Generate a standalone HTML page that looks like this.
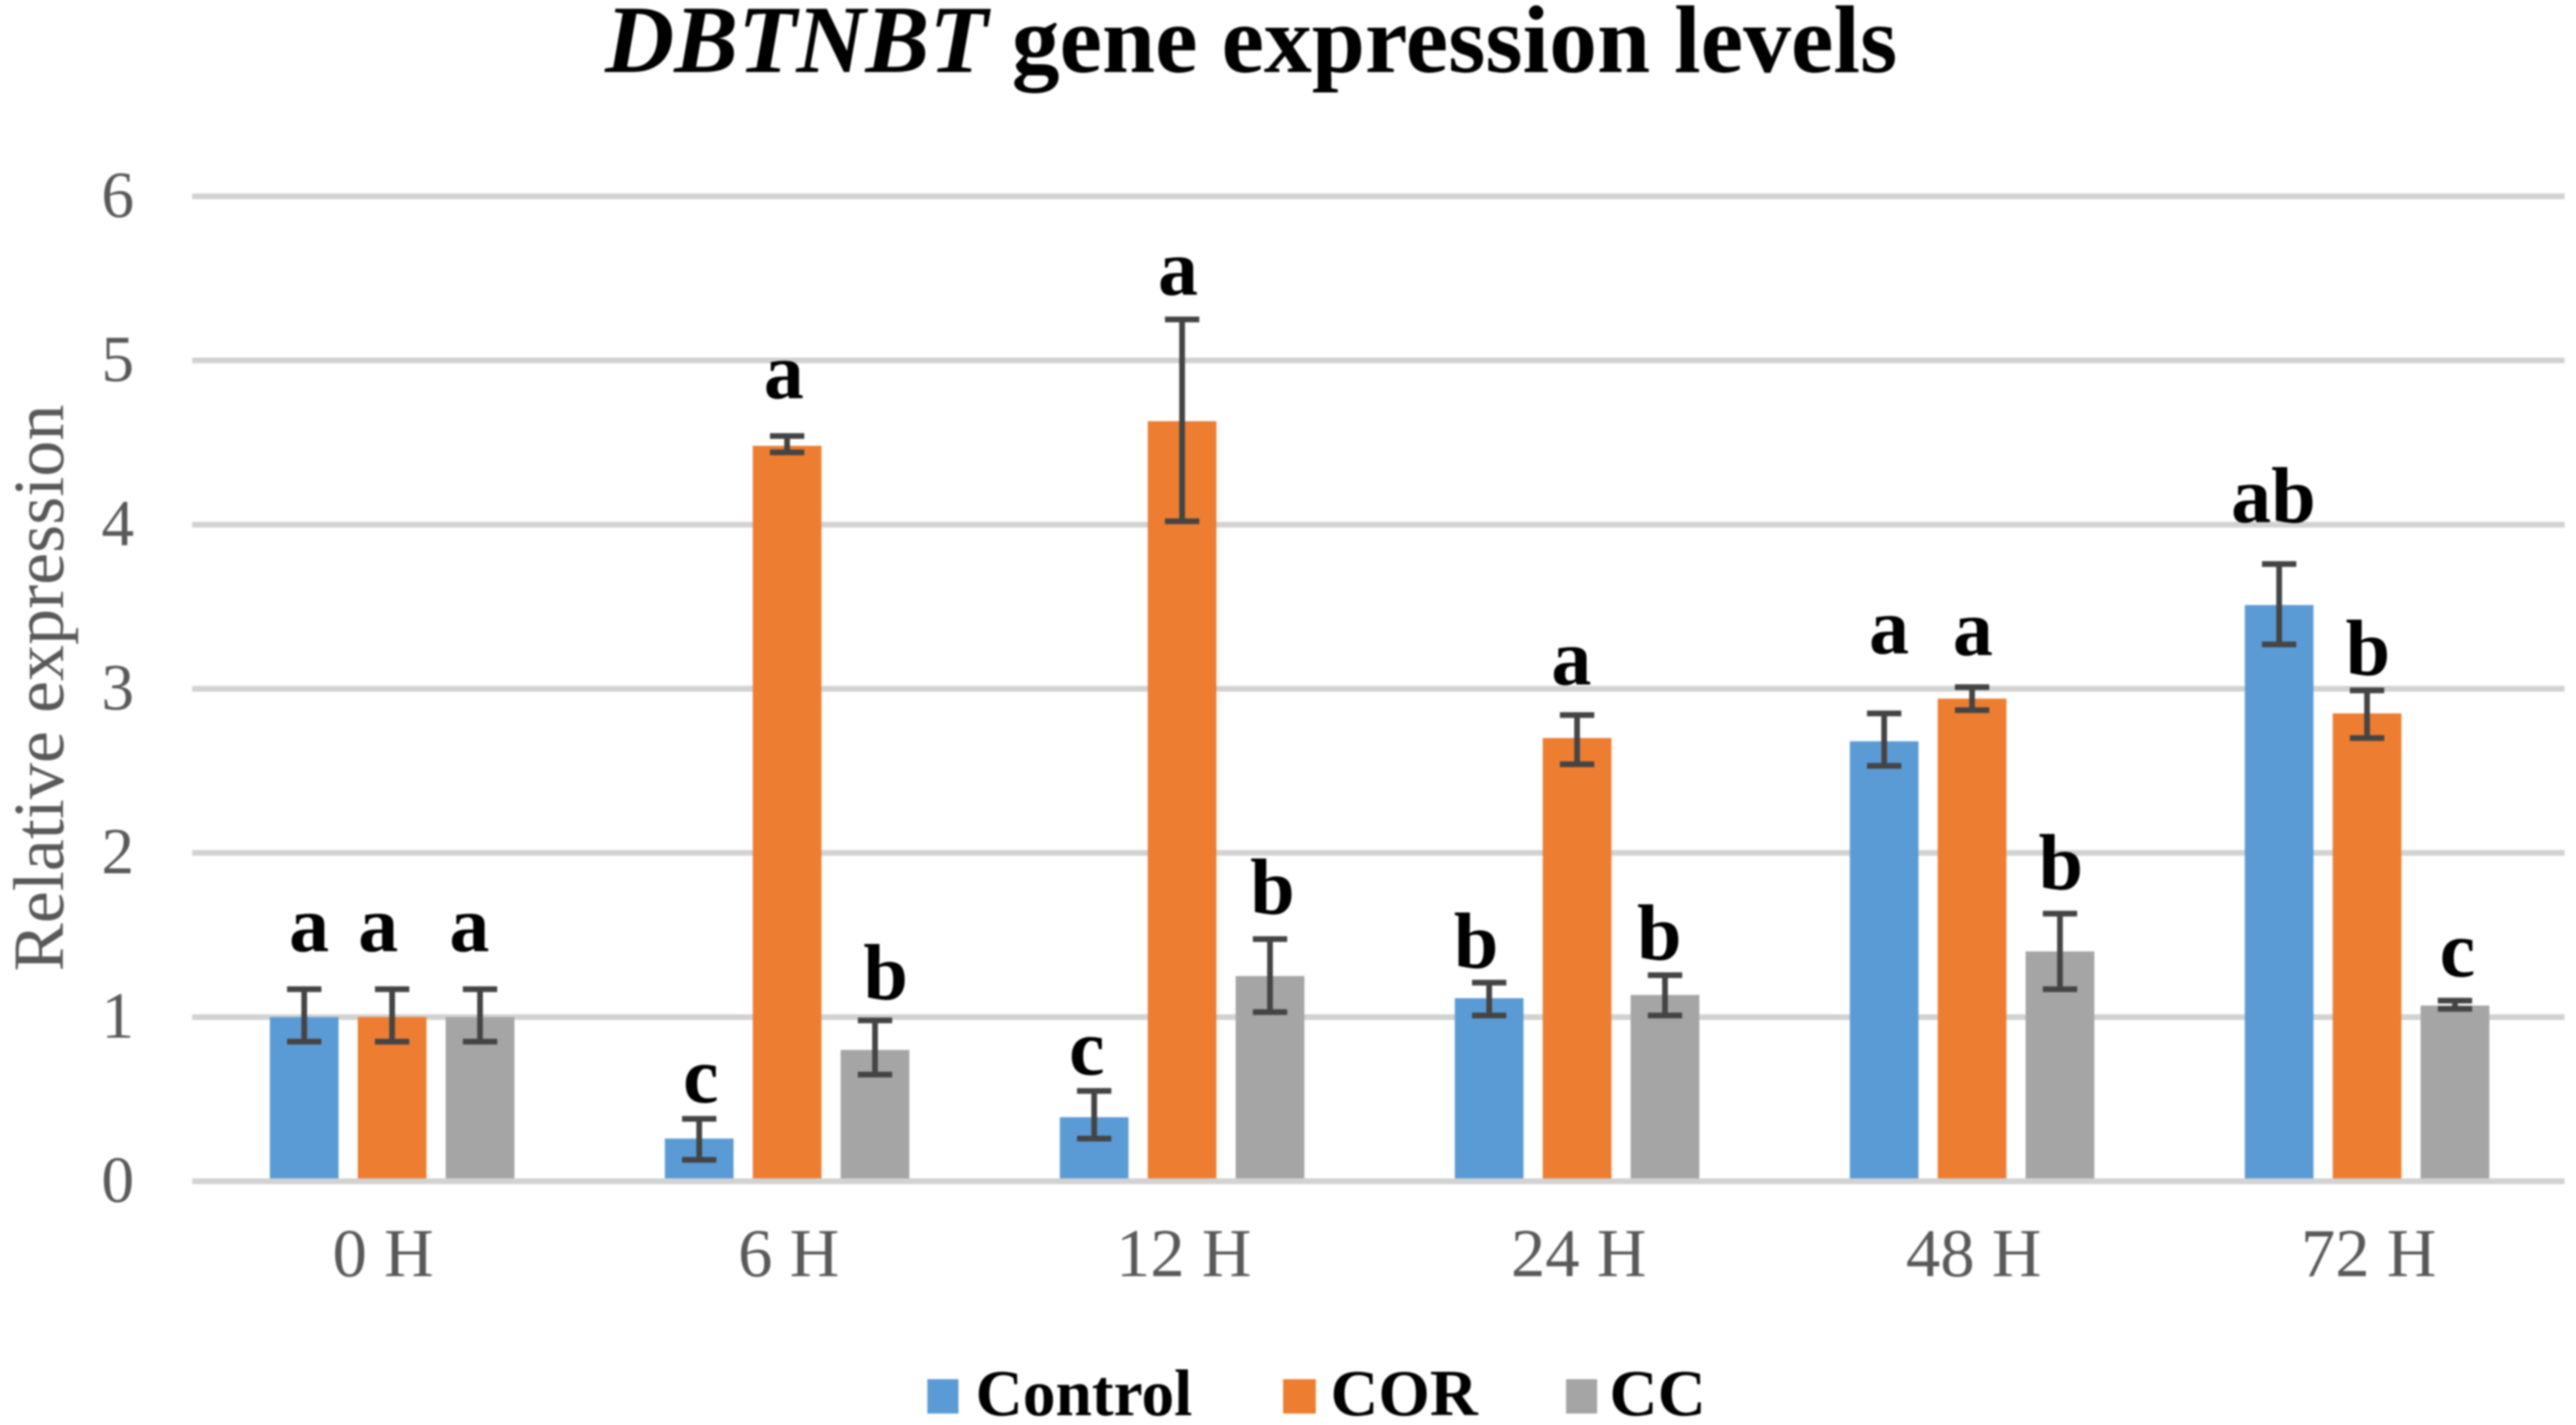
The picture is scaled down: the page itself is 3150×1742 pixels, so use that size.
<!DOCTYPE html>
<html lang="en">
<head>
<meta charset="utf-8">
<title>DBTNBT gene expression levels</title>
<style>
  html, body { margin: 0; padding: 0; background: #fff; width: 3150px; height: 1742px; overflow: hidden; }
  svg { display: block; filter: blur(1.1px); }
  text { font-family: "Liberation Serif", "Times New Roman", serif; }
</style>
</head>
<body>
<svg id="chart" xmlns="http://www.w3.org/2000/svg" width="3150" height="1742" viewBox="0 0 3150 1742">
  <rect x="0" y="0" width="3150" height="1742" fill="#ffffff"></rect>
  <text x="740" y="88" font-size="118" font-weight="bold" fill="#000" textLength="1580" lengthAdjust="spacingAndGlyphs"><tspan font-style="italic">DBTNBT</tspan> gene expression levels</text>
  <text transform="translate(77 841) rotate(-90)" text-anchor="middle" font-size="88" fill="#595959" textLength="693" lengthAdjust="spacingAndGlyphs">Relative expression</text>
  <g id="grid"></g>
  <g id="yticks"></g>
  <g id="bars"></g>
  <g id="baseline"></g>
  <g id="errors"></g>
  <g id="letters"></g>
  <g id="xticks"></g>
  <g>
    <g>
      <rect x="1134" y="1686" width="38" height="42" fill="#5B9BD5"></rect>
      <text x="1193" y="1730" font-size="80" font-weight="bold" fill="#000" textLength="265" lengthAdjust="spacingAndGlyphs">Control</text>
    </g>
    <g>
      <rect x="1569" y="1686" width="40" height="42" fill="#ED7D31"></rect>
      <text x="1627" y="1730" font-size="80" font-weight="bold" fill="#000" textLength="180" lengthAdjust="spacingAndGlyphs">COR</text>
    </g>
    <g>
      <rect x="1915" y="1686" width="38" height="42" fill="#A5A5A5"></rect>
      <text x="1968" y="1730" font-size="80" font-weight="bold" fill="#000" textLength="118" lengthAdjust="spacingAndGlyphs">CC</text>
    </g>
  </g>
</svg>
<script>
// ---- chart data ----
const categories = ['0 H', '6 H', '12 H', '24 H', '48 H', '72 H'];
const yTickValues = [0, 1, 2, 3, 4, 5, 6];

const controlValues = [1, 0.26, 0.39, 1.115, 2.68, 3.51];
const controlUpper  = [1.17, 0.38, 0.55, 1.21, 2.85, 3.76];
const controlLower  = [0.85, 0.13, 0.26, 1.01, 2.53, 3.27];
const controlLetters = ['a', 'c', 'c', 'b', 'a', 'ab'];

const corValues = [1, 4.48, 4.63, 2.70, 2.94, 2.85];
const corUpper  = [1.17, 4.54, 5.25, 2.84, 3.01, 2.99];
const corLower  = [0.85, 4.44, 4.02, 2.54, 2.87, 2.70];
const corLetters = ['a', 'a', 'a', 'a', 'a', 'b'];

const ccValues = [1, 0.80, 1.25, 1.135, 1.40, 1.07];
const ccUpper  = [1.17, 0.98, 1.475, 1.255, 1.63, 1.10];
const ccLower  = [0.85, 0.65, 1.03, 1.01, 1.17, 1.05];
const ccLetters = ['a', 'b', 'b', 'b', 'b', 'c'];

// ---- layout (kept apart from the data) ----
const SVG_NS = 'http://www.w3.org/2000/svg';
const Y_ZERO = 1444, Y_UNIT = 200.67;
const GROUP_START = 330, GROUP_PITCH = 483, BAR_PITCH = 107.5, BAR_WIDTH = 84;
const GRID_LEFT = 235, GRID_RIGHT = 3136;
const CAP_WIDTH = 42;

// Letter placement relative to each error-bar top: [horizontal shift, gap above cap].
const letterOffsets = {
  control: [[6, 46], [2, 20], [-9, 20], [-16, 18], [6, 73], [-7, 51]],
  cor:     [[-17, 46], [-4, 46], [-5, 30], [-7, 37], [1, 39], [1, 19]],
  cc:      [[-13, 46], [13, 26], [3, 31], [-7, 19], [1, 30], [3, 30]]
};

const series = [
  { key: 'control', color: '#5B9BD5', values: controlValues, upper: controlUpper, lower: controlLower, letters: controlLetters },
  { key: 'cor',     color: '#ED7D31', values: corValues,     upper: corUpper,     lower: corLower,     letters: corLetters },
  { key: 'cc',      color: '#A5A5A5', values: ccValues,      upper: ccUpper,      lower: ccLower,      letters: ccLetters }
];

// ---- axis functions ----
function yScale(v) { return Y_ZERO - v * Y_UNIT; }
function barLeft(catIndex, seriesIndex) { return GROUP_START + catIndex * GROUP_PITCH + seriesIndex * BAR_PITCH; }
function barCenter(catIndex, seriesIndex) { return barLeft(catIndex, seriesIndex) + BAR_WIDTH / 2; }
function groupCenter(catIndex) { return barCenter(catIndex, 1); }

function make(tag, attrs, parent) {
  const el = document.createElementNS(SVG_NS, tag);
  for (const k in attrs) el.setAttribute(k, attrs[k]);
  parent.appendChild(el);
  return el;
}

const gridG = document.getElementById('grid');
const yTicksG = document.getElementById('yticks');
const barsG = document.getElementById('bars');
const baseG = document.getElementById('baseline');
const errG = document.getElementById('errors');
const lettersG = document.getElementById('letters');
const xTicksG = document.getElementById('xticks');

// gridlines and y tick labels
yTickValues.forEach(function (t) {
  const parent = t === 0 ? baseG : gridG;
  const line = make('line', { x1: GRID_LEFT, x2: GRID_RIGHT, y1: yScale(t), y2: yScale(t), stroke: '#D2D2D2', 'stroke-width': 7 }, parent);
  
  

  const label = make('text', { x: 144, y: yScale(t) + 25, 'text-anchor': 'middle', 'font-size': 80, fill: '#595959' }, yTicksG);
  label.textContent = String(t);
  
  
});

// x tick labels
categories.forEach(function (c, i) {
  const shift = i === 0 ? -11 : 2;
  const label = make('text', { x: groupCenter(i) + shift, y: 1560, 'text-anchor': 'middle', 'font-size': 84, fill: '#595959' }, xTicksG);
  label.textContent = c;
  
  
});

// bars, error bars, letters
series.forEach(function (s, si) {
  s.values.forEach(function (v, ci) {
    const tag = s.key + '-' + categories[ci].replace(' ', '').toLowerCase();
    const cx = barCenter(ci, si);

    const bar = make('rect', { x: barLeft(ci, si), y: yScale(v), width: BAR_WIDTH, height: Y_ZERO - yScale(v), fill: s.color }, barsG);
    
    

    const yTop = yScale(s.upper[ci]);
    const yBot = yScale(s.lower[ci]);
    const err = make('g', { stroke: '#444444', 'stroke-width': 7, fill: 'none' }, errG);
    
    
    make('line', { x1: cx, x2: cx, y1: yTop, y2: yBot }, err);
    make('line', { x1: cx - CAP_WIDTH / 2, x2: cx + CAP_WIDTH / 2, y1: yTop, y2: yTop }, err);
    make('line', { x1: cx - CAP_WIDTH / 2, x2: cx + CAP_WIDTH / 2, y1: yBot, y2: yBot }, err);

    const off = letterOffsets[s.key][ci];
    const letter = make('text', { x: cx + off[0], y: yTop - off[1], 'text-anchor': 'middle', 'font-size': 98, 'font-weight': 'bold', fill: '#000' }, lettersG);
    letter.textContent = s.letters[ci];
    
    
  });
});
</script>
</body>
</html>
